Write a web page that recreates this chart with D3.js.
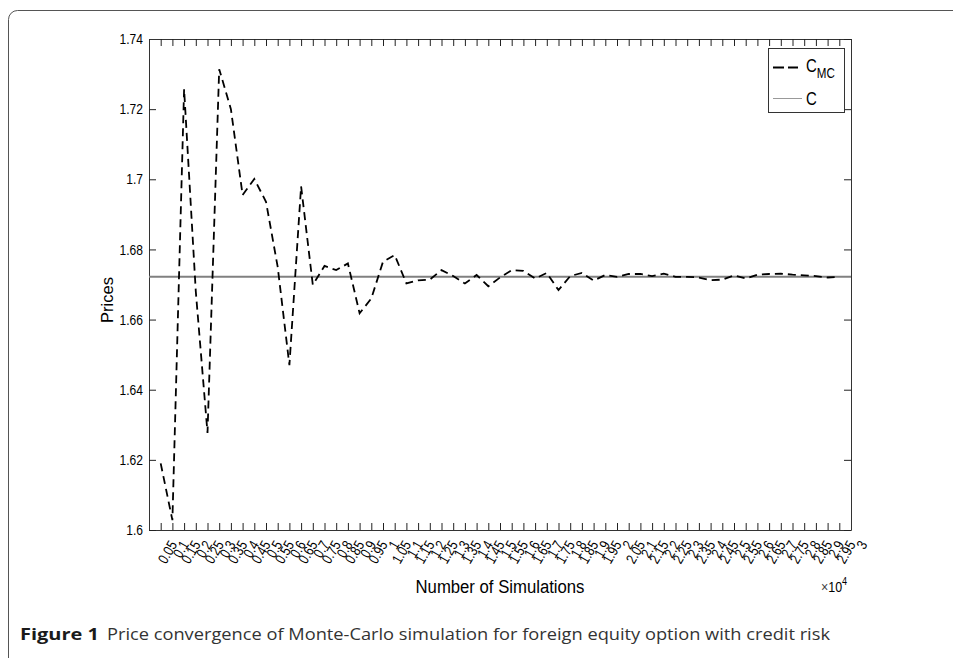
<!DOCTYPE html>
<html>
<head>
<meta charset="utf-8">
<script src="https://cdn.jsdelivr.net/npm/d3@7"></script>
<style>
  body { margin: 0; background: #fff; }
  svg { display: block; }
  .tick text { font-family: "Liberation Sans", Arial, sans-serif; fill: #000; }
</style>
</head>
<body>
<div id="chart"></div>
<script>
// data (x in units of 10^4 simulations)
var simulations = [0.05, 0.1, 0.15, 0.2, 0.25, 0.3, 0.35, 0.4, 0.45, 0.5,
  0.55, 0.6, 0.65, 0.7, 0.75, 0.8, 0.85, 0.9, 0.95, 1,
  1.05, 1.1, 1.15, 1.2, 1.25, 1.3, 1.35, 1.4, 1.45, 1.5,
  1.55, 1.6, 1.65, 1.7, 1.75, 1.8, 1.85, 1.9, 1.95, 2,
  2.05, 2.1, 2.15, 2.2, 2.25, 2.3, 2.35, 2.4, 2.45, 2.5,
  2.55, 2.6, 2.65, 2.7, 2.75, 2.8, 2.85, 2.9, 2.95];

var priceMC = [1.619, 1.6028, 1.7257, 1.668, 1.6277, 1.7314, 1.720, 1.6955, 1.7001, 1.6936,
  1.675, 1.647, 1.698, 1.6699, 1.6753, 1.6741, 1.676, 1.6618, 1.666, 1.6765,
  1.6784, 1.6703, 1.6712, 1.6714, 1.6741, 1.6724, 1.6703, 1.6727, 1.6695, 1.672,
  1.6741, 1.6739, 1.6717, 1.6733, 1.6684, 1.6724, 1.6733, 1.6711, 1.6727, 1.6722,
  1.673, 1.673, 1.6724, 1.6731, 1.6722, 1.6722, 1.672, 1.6712, 1.6714, 1.6726,
  1.6717, 1.6728, 1.673, 1.6731, 1.6728, 1.6726, 1.6724, 1.672, 1.6722];

// closed-form price
var priceC = 1.6722;

var xTicks = ["0.05", "0.1", "0.15", "0.2", "0.25", "0.3", "0.35", "0.4", "0.45", "0.5",
  "0.55", "0.6", "0.65", "0.7", "0.75", "0.8", "0.85", "0.9", "0.95", "1",
  "1.05", "1.1", "1.15", "1.2", "1.25", "1.3", "1.35", "1.4", "1.45", "1.5",
  "1.55", "1.6", "1.65", "1.7", "1.75", "1.8", "1.85", "1.9", "1.95", "2",
  "2.05", "2.1", "2.15", "2.2", "2.25", "2.3", "2.35", "2.4", "2.45", "2.5",
  "2.55", "2.6", "2.65", "2.7", "2.75", "2.8", "2.85", "2.9", "2.95", "3"];
var yTicks = ["1.6", "1.62", "1.64", "1.66", "1.68", "1.7", "1.72", "1.74"];

var svgWidth = 953;
var svgHeight = 658;
var plot = { left: 149, right: 851, top: 39, bottom: 530 };
// the figure's lettering is narrow (horizontally squeezed Helvetica)
var squeeze = 0.83;
var sans = "Liberation Sans, Arial, sans-serif";

var svg = d3.select("#chart")
  .append("svg")
  .attr("width", svgWidth)
  .attr("height", svgHeight);

// rounded frame of the figure panel
svg.append("rect")
  .attr("x", 8.5)
  .attr("y", 10.5)
  .attr("width", 1000)
  .attr("height", 800)
  .attr("rx", 9)
  .attr("fill", "none")
  .attr("stroke", "#555")
  .attr("stroke-width", 1);

var xScale = d3.scaleLinear()
  .domain([0, 3])
  .range([plot.left, plot.right]);

var yScale = d3.scaleLinear()
  .domain([1.6, 1.74])
  .range([plot.bottom, plot.top]);

var xTickVals = xTicks.map(Number);
var yTickVals = yTicks.map(Number);

// bottom axis with rotated labels
var bottomAxis = d3.axisBottom(xScale)
  .tickValues(xTickVals)
  .tickSizeInner(-7)
  .tickSizeOuter(0)
  .tickFormat((d, i) => xTicks[i]);

var xAxis = svg.append("g")
  .attr("transform", `translate(0, ${plot.bottom})`)
  .call(bottomAxis);

xAxis.selectAll("text")
  .attr("x", 0)
  .attr("y", 0)
  .attr("dy", "0.35em")
  .attr("text-anchor", "end")
  .attr("font-size", "14.5px")
  .attr("transform", `translate(12, 12) rotate(-60) scale(${squeeze}, 1)`);

// left axis
var leftAxis = d3.axisLeft(yScale)
  .tickValues(yTickVals)
  .tickSizeInner(-7)
  .tickSizeOuter(0)
  .tickPadding(6)
  .tickFormat((d, i) => yTicks[i]);

var yAxis = svg.append("g")
  .attr("transform", `translate(${plot.left}, 0)`)
  .call(leftAxis);

yAxis.selectAll("text")
  .attr("font-size", "14.5px")
  .attr("x", 0)
  .attr("transform", `translate(-6, 0) scale(${squeeze}, 1)`);

// top and right axes, ticks only
svg.append("g")
  .attr("transform", `translate(0, ${plot.top})`)
  .call(d3.axisTop(xScale).tickValues(xTickVals).tickSizeInner(-7).tickSizeOuter(0).tickFormat(""));

svg.append("g")
  .attr("transform", `translate(${plot.right}, 0)`)
  .call(d3.axisRight(yScale).tickValues(yTickVals).tickSizeInner(-7).tickSizeOuter(0).tickFormat(""));

svg.selectAll(".domain").attr("stroke", "#333");
svg.selectAll(".tick line").attr("stroke", "#222");

// analytic price line
svg.append("line")
  .attr("x1", plot.left)
  .attr("x2", plot.right)
  .attr("y1", yScale(priceC))
  .attr("y2", yScale(priceC))
  .attr("stroke", "#808080")
  .attr("stroke-width", 2);

// Monte-Carlo estimates
var line = d3.line()
  .x((d, i) => xScale(simulations[i]))
  .y(d => yScale(d));

svg.append("path")
  .datum(priceMC)
  .attr("d", line)
  .attr("fill", "none")
  .attr("stroke", "#000")
  .attr("stroke-width", 1.8)
  .attr("stroke-dasharray", "8,5");

// legend
var legend = svg.append("g");
legend.append("rect")
  .attr("x", 768.5)
  .attr("y", 48.5)
  .attr("width", 76)
  .attr("height", 64)
  .attr("fill", "#fff")
  .attr("stroke", "#333");

legend.append("line")
  .attr("x1", 773).attr("x2", 798)
  .attr("y1", 67.5).attr("y2", 67.5)
  .attr("stroke", "#000")
  .attr("stroke-width", 1.8)
  .attr("stroke-dasharray", "11,4");

var lbl1 = legend.append("text")
  .attr("transform", `translate(806, 72) scale(${squeeze}, 1)`)
  .attr("font-family", sans)
  .attr("font-size", "18px");
lbl1.append("tspan").text("C");
lbl1.append("tspan")
  .attr("font-size", "14px")
  .attr("dy", 6)
  .text("MC");

legend.append("line")
  .attr("x1", 773).attr("x2", 802)
  .attr("y1", 98.5).attr("y2", 98.5)
  .attr("stroke", "#999")
  .attr("stroke-width", 1);

legend.append("text")
  .attr("transform", `translate(806, 105) scale(${squeeze}, 1)`)
  .attr("font-family", sans)
  .attr("font-size", "18px")
  .text("C");

// axis titles
svg.append("text")
  .attr("transform", `translate(${(plot.left + plot.right) / 2}, 593) scale(0.88, 1)`)
  .attr("text-anchor", "middle")
  .attr("font-family", sans)
  .attr("font-size", "19px")
  .text("Number of Simulations");

svg.append("text")
  .attr("transform", "translate(113, 300) rotate(-90)")
  .attr("text-anchor", "middle")
  .attr("font-family", sans)
  .attr("font-size", "16.5px")
  .text("Prices");

var expo = svg.append("text")
  .attr("transform", `translate(821, 592) scale(${squeeze}, 1)`)
  .attr("font-family", sans)
  .attr("font-size", "15px");
expo.append("tspan").attr("fill", "#444").text("\u00d7");
expo.append("tspan").text("10");
expo.append("tspan").attr("font-size", "11px").attr("dy", -7).text("4");

// caption
svg.append("text")
  .attr("x", 20)
  .attr("y", 640)
  .attr("font-family", "Open Sans, Noto Sans, sans-serif")
  .attr("font-size", "16px")
  .attr("font-weight", "bold")
  .attr("fill", "#1a1a1a")
  .attr("textLength", 79)
  .attr("lengthAdjust", "spacingAndGlyphs")
  .text("Figure 1");

svg.append("text")
  .attr("x", 107)
  .attr("y", 640)
  .attr("font-family", "Open Sans, Noto Sans, sans-serif")
  .attr("font-size", "16px")
  .attr("fill", "#333")
  .attr("textLength", 723)
  .attr("lengthAdjust", "spacingAndGlyphs")
  .text("Price convergence of Monte-Carlo simulation for foreign equity option with credit risk");
</script>
</body>
</html>
